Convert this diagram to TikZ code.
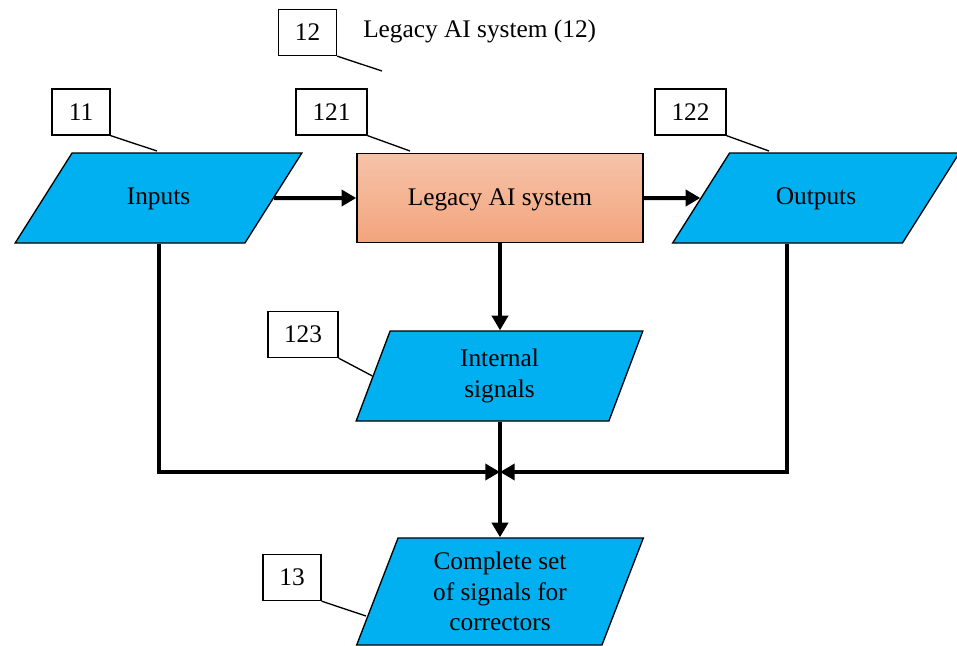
\documentclass[tikz,border=0pt]{standalone}
\usepackage{fontspec}
\setmainfont{Liberation Serif}
\usetikzlibrary{shapes.geometric,arrows.meta,calc}
\definecolor{databox}{HTML}{00B0F0}
\definecolor{legacytop}{HTML}{F6C3A9}
\definecolor{legacybottom}{HTML}{F3A47D}
\begin{document}
\begin{tikzpicture}
			[
				x                       = 0.75pt,
				y                       = -0.75pt,
				font                    = \fontsize{19}{23}\selectfont,
				data/.style             = {trapezium, trapezium left angle=57.7, trapezium right angle=122.3,
				                           trapezium stretches body, draw, line width=1pt, fill=databox,
				                           minimum width=215pt, minimum height=67.5pt, inner sep=0pt, align=center},
				dataline/.style         = {data, text height=13.5pt, text depth=4.5pt, inner ysep=24.75pt},
				system/.style           = {rectangle, draw, line width=1.2pt, top color=legacytop,
				                           bottom color=legacybottom, minimum width=214.5pt, minimum height=66.75pt,
				                           text height=14pt, text depth=3pt},
				ref/.style              = {rectangle, draw, line width=1pt, minimum width=43.5pt,
				                           minimum height=34.5pt, inner sep=0pt},
				leader/.style           = {line width=1pt},
				flow/.style             = {line width=3pt, -{Triangle[length=11pt,width=12pt]}}
			]
			\useasboundingbox (0,0) rectangle (957,646);
			% blocks
			\node [dataline] (inputs) at (158.5,198) {Inputs};
			\node [system] (legacy) at (500,198) {Legacy AI system};
			\node [dataline] (outputs) at (816,198) {Outputs};
			\node [data] (internal) at (499.5,376) {Internal\\signals};
			\node [data, trapezium left angle=62.4, trapezium right angle=117.6, minimum height=80.25pt]
				(complete) at (500,591.5) {Complete set\\of signals for\\correctors};
			\coordinate (join) at (500,472);
			\coordinate (odown) at ($(outputs.bottom left corner)!0.5!(outputs.bottom right corner)$);
			% reference numbers
			\node [ref] (r11) at (81,112) {11};
			\node [ref] (r12) at (307.5,32.5) {12};
			\node [ref, minimum width=53.25pt] (r121) at (331.5,112) {121};
			\node [ref, minimum width=53.25pt] (r122) at (690.5,112) {122};
			\node [ref, minimum width=52.5pt] (r123) at (303,334.5) {123};
			\node [ref] (r13) at (292,577.5) {13};
			\node [anchor=west, inner sep=0pt] (title) at (363,31) {Legacy AI system (12)};
			\coordinate (e11) at (157,151);
			\coordinate (e12) at (382,71);
			\coordinate (e121) at (410,151);
			\coordinate (e122) at (769,151);
			\coordinate (e13) at (366,616);
			\draw [leader] (r11.south east) -- (e11);
			\draw [leader] (r12.south east) -- (e12);
			\draw [leader] (r121.south east) -- (e121);
			\draw [leader] (r122.south east) -- (e122);
			\draw [leader] (r123.south east) -- (internal.west);
			\draw [leader] (r13.south east) -- (e13);
			% signal flow
			\draw [flow] (inputs.east) -- (legacy.west);
			\draw [flow] (legacy.east) -- (outputs.west);
			\draw [flow] (legacy.south) -- (legacy.south |- internal.north);
			\draw [flow] (inputs.center |- inputs.south) -- (inputs.center |- join) -- (join);
			\draw [flow] (odown) -- (odown |- join) -- (join);
			\draw [flow] (join |- internal.south) -- (join |- complete.north);
		\end{tikzpicture}
\end{document}
